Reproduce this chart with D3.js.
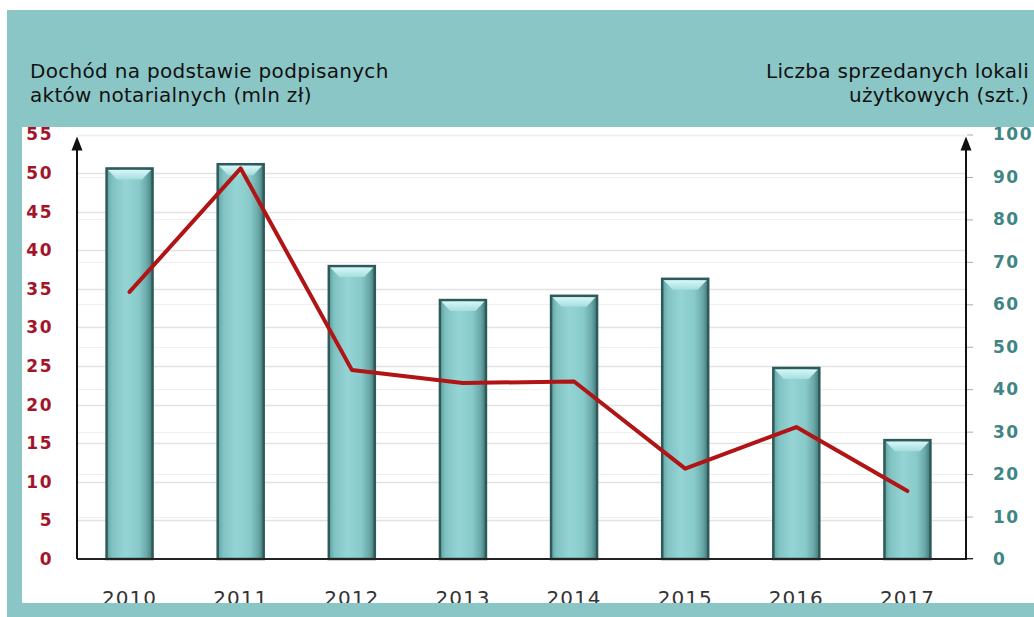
<!DOCTYPE html>
<html lang="pl">
<head>
<meta charset="utf-8">
<script src="https://cdn.jsdelivr.net/npm/d3@7"></script>
<style>
  html, body { margin: 0; padding: 0; background: #ffffff; }
  svg { display: block; }
</style>
</head>
<body>
<svg id="chart" width="1034" height="617"></svg>
<script>
// Lata sprzedaży
const years = ["2010", "2011", "2012", "2013", "2014", "2015", "2016", "2017"];
// Liczba sprzedanych lokali użytkowych (szt.) – słupki, prawa oś
const unitsSold = [92, 93, 69, 61, 62, 66, 45, 28];
// Dochód na podstawie podpisanych aktów notarialnych (mln zł) – linia, lewa oś
const income = [34.6, 50.6, 24.5, 22.8, 23.0, 11.7, 17.1, 8.8];
// Podziałki osi
const leftTicks = [0, 5, 10, 15, 20, 25, 30, 35, 40, 45, 50, 55];
const rightTicks = [0, 10, 20, 30, 40, 50, 60, 70, 80, 90, 100];

const svg = d3.select("#chart");
const W = 1034, H = 617;

// Tło ramki
svg.append("rect").attr("x", 7).attr("y", 10).attr("width", W - 7).attr("height", H - 10)
  .attr("fill", "#8bc6c6");
svg.append("rect").attr("x", 22).attr("y", 127).attr("width", W - 22).attr("height", 476)
  .attr("fill", "#ffffff");

const font = "Verdana, 'DejaVu Sans', sans-serif";

// Tytuły osi
const leftTitle = svg.append("text").attr("font-family", font).attr("font-size", 20)
  .attr("letter-spacing", 0.3).attr("fill", "#111");
leftTitle.append("tspan").attr("x", 30).attr("y", 78).text("Dochód na podstawie podpisanych");
leftTitle.append("tspan").attr("x", 30).attr("y", 102).text("aktów notarialnych (mln zł)");

const rightTitle = svg.append("text").attr("font-family", font).attr("font-size", 20)
  .attr("letter-spacing", 0.3).attr("fill", "#111").attr("text-anchor", "end");
rightTitle.append("tspan").attr("x", 1029).attr("y", 78).text("Liczba sprzedanych lokali");
rightTitle.append("tspan").attr("x", 1029).attr("y", 102).text("użytkowych (szt.)");

// Skale
const x0 = 77, x1 = 966, yBase = 559, yTop = 134.5;
const x = d3.scaleBand().domain(years).range([x0 - 3, x1 - 3]);
const yLeft = d3.scaleLinear().domain([0, 55]).range([yBase, yTop]);
const yRight = d3.scaleLinear().domain([0, 100]).range([yBase, yTop]);

// Siatka
const plot = svg.append("g");
plot.selectAll("line.gl").data(leftTicks.filter(d => d > 0)).join("line")
  .attr("x1", x0 + 1).attr("x2", x1 - 1)
  .attr("y1", d => Math.round(yLeft(d)) + 0.5).attr("y2", d => Math.round(yLeft(d)) + 0.5)
  .attr("stroke", "#e2e2e2").attr("stroke-width", 1.5);
plot.selectAll("line.gr").data(rightTicks.filter(d => d > 0)).join("line")
  .attr("x1", x0 + 1).attr("x2", x1 - 1)
  .attr("y1", d => Math.round(yRight(d)) + 0.5).attr("y2", d => Math.round(yRight(d)) + 0.5)
  .attr("stroke", "#f0f0f0").attr("stroke-width", 1);

// Gradienty słupków
const defs = svg.append("defs");
const gBody = defs.append("linearGradient").attr("id", "barBody")
  .attr("x1", "0%").attr("x2", "100%").attr("y1", "0%").attr("y2", "0%");
[["0%", "#5f9f9f"], ["12%", "#80c2c2"], ["40%", "#95d4d4"], ["70%", "#88caca"], ["88%", "#6aa8a8"], ["100%", "#3f7878"]]
  .forEach(([o, c]) => gBody.append("stop").attr("offset", o).attr("stop-color", c));
const gTop = defs.append("linearGradient").attr("id", "barTop")
  .attr("x1", "0%").attr("x2", "0%").attr("y1", "0%").attr("y2", "100%");
[["0%", "#d8f6f6"], ["100%", "#a4dede"]]
  .forEach(([o, c]) => gTop.append("stop").attr("offset", o).attr("stop-color", c));

// Słupki
const bw = 46;
const bars = svg.append("g").selectAll("g").data(years).join("g");
bars.append("rect")
  .attr("x", d => x(d) + x.bandwidth() / 2 - bw / 2)
  .attr("y", (d, i) => yRight(unitsSold[i]))
  .attr("width", bw)
  .attr("height", (d, i) => yBase - yRight(unitsSold[i]))
  .attr("fill", "url(#barBody)")
  .attr("stroke", "#2f5a5a").attr("stroke-width", 2.5);
// Skos na górze słupka
bars.append("path")
  .attr("d", (d, i) => {
    const cx = x(d) + x.bandwidth() / 2, t = yRight(unitsSold[i]);
    const l = cx - bw / 2 + 1.5, r = cx + bw / 2 - 1.5;
    return `M${l},${t + 1.5}L${r},${t + 1.5}L${r - 9},${t + 11}L${l + 9},${t + 11}Z`;
  })
  .attr("fill", "url(#barTop)");

// Linia dochodu
const line = d3.line()
  .x((d, i) => x(years[i]) + x.bandwidth() / 2)
  .y(d => yLeft(d));
svg.append("path").datum(income)
  .attr("d", line)
  .attr("fill", "none").attr("stroke", "#b01414").attr("stroke-width", 4)
  .attr("stroke-linejoin", "round").attr("stroke-linecap", "round");

// Osie
const axisG = svg.append("g");
axisG.append("line").attr("x1", x0).attr("x2", x1 + 7).attr("y1", yBase).attr("y2", yBase)
  .attr("stroke", "#222").attr("stroke-width", 2);
[x0, x1].forEach(ax => {
  axisG.append("line").attr("x1", ax).attr("x2", ax).attr("y1", yBase).attr("y2", yTop + 10)
    .attr("stroke", "#111").attr("stroke-width", 2);
  axisG.append("path")
    .attr("d", `M${ax},${yTop + 2}L${ax - 5.5},${yTop + 16}L${ax + 5.5},${yTop + 16}Z`)
    .attr("fill", "#111");
});

// Lewa oś – etykiety
const leftAxis = d3.axisLeft(yLeft).tickValues(leftTicks).tickSize(0).tickPadding(0);
const la = svg.append("g").attr("transform", "translate(53,0)").call(leftAxis);
la.select(".domain").remove();
la.selectAll("text").attr("font-family", font).attr("font-size", 17).attr("font-weight", "bold")
  .attr("letter-spacing", 1.5).attr("fill", "#a3142a");

// Prawa oś – etykiety i drobne kreski
const rightAxis = d3.axisRight(yRight).tickValues(rightTicks).tickSize(6).tickPadding(20);
const ra = svg.append("g").attr("transform", `translate(${x1 + 1},0)`).call(rightAxis);
ra.select(".domain").remove();
ra.selectAll(".tick line").attr("stroke", "#aaaaaa");
ra.selectAll("text").attr("font-family", font).attr("font-size", 17).attr("font-weight", "bold")
  .attr("letter-spacing", 1.5).attr("fill", "#3f8585");

// Oś X – lata
const xAxis = d3.axisBottom(x).tickSize(0).tickPadding(0);
const xa = svg.append("g").attr("transform", "translate(0,605)").call(xAxis);
xa.select(".domain").remove();
xa.selectAll("text").attr("font-family", font).attr("font-size", 20).attr("fill", "#333")
  .attr("letter-spacing", 1).attr("dy", "0");

// Dolny pasek ramki przykrywa dolną część etykiet
svg.append("rect").attr("x", 7).attr("y", 603).attr("width", W - 7).attr("height", 14)
  .attr("fill", "#8bc6c6");
</script>
</body>
</html>
